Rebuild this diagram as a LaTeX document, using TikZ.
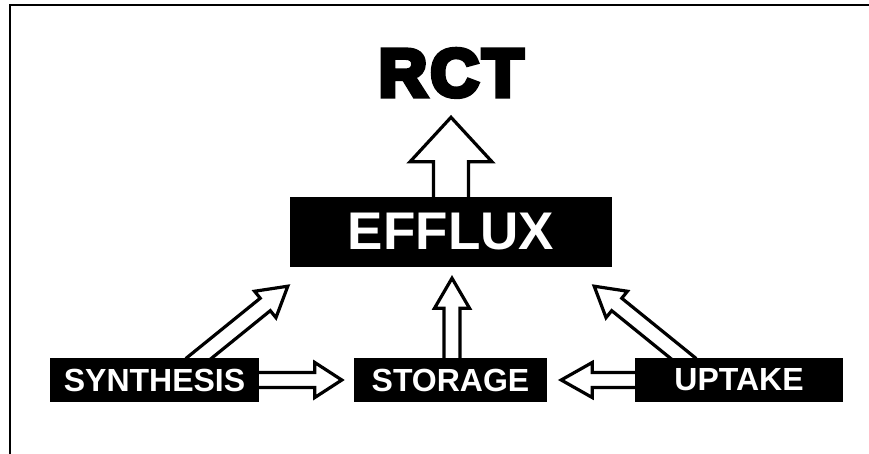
\documentclass[tikz,border=0pt]{standalone}
\usepackage{fontspec}
\setmainfont{Liberation Sans}
\newfontfamily\heavyfont[FakeBold=7.5]{Liberation Sans Bold}
\usetikzlibrary{calc,backgrounds}
\tikzset{
  box/.style={fill=black,text=white,inner sep=0pt,
    font=\bfseries\fontsize{32}{32}\selectfont,minimum height=44pt},
  barrow/.style={draw=black,fill=white,line width=3.2pt,line join=miter},
  framepen/.style={line width=2.2pt,line join=miter}
}
% #1 start, #2 tip, #3 shaft half width, #4 head half width, #5 head length
\newcommand\blockarrow[5]{%
  \coordinate (ba-h) at ($(#2)!#5!(#1)$);
  \draw[barrow] ($(#1)!#3!90:(#2)$) -- ($(ba-h)!#3!90:(#2)$)
    -- ($(ba-h)!#4!90:(#2)$) -- (#2) -- ($(ba-h)!#4!-90:(#2)$)
    -- ($(ba-h)!#3!-90:(#2)$) -- ($(#1)!#3!-90:(#2)$) -- cycle;}
\begin{document}
\begin{tikzpicture}[x=1pt,y=-1pt]
\useasboundingbox (0,0) rectangle (869,453);
\draw[framepen] (10,455) -- (10,5.3) -- (871,5.3);
\node[anchor=base,inner sep=0pt,font=\heavyfont\fontsize{67}{67}\selectfont] (rct) at (451,96) {R\kern3.5pt C\kern3.5pt T};
\node[box,minimum width=322pt,minimum height=70pt,font=\bfseries\fontsize{53}{53}\selectfont] (efflux) at (451,232) {EFFLUX};
\node[box,minimum width=209pt] (synth) at (154.5,380) {SYNTHESIS};
\node[box,minimum width=193pt] (storage) at (450.5,380) {STORAGE};
\node[box,minimum width=208pt] (uptake) at (739,380) {UPTAKE};
\begin{pgfonlayer}{background}
  \coordinate (e2r-s) at ($(efflux.north)+(0,8)$);
  \coordinate (e2r-t) at ($(efflux.north)+(0,-79.5)$);
  \blockarrow{e2r-s}{e2r-t}{17.5pt}{41pt}{44.5pt}
  \coordinate (s2e-s) at ($(storage.north)+(1.5,7)$);
  \coordinate (s2e-t) at ($(efflux.south)+(1,11)$);
  \blockarrow{s2e-s}{s2e-t}{8pt}{17.5pt}{30pt}
  \coordinate (y2s-s) at ($(synth.east)+(-9,0)$);
  \coordinate (y2s-t) at ($(storage.west)+(-12,0)$);
  \blockarrow{y2s-s}{y2s-t}{7.5pt}{17.5pt}{27pt}
  \coordinate (u2s-s) at ($(uptake.west)+(10,0)$);
  \coordinate (u2s-t) at ($(storage.east)+(14,0)$);
  \blockarrow{u2s-s}{u2s-t}{7.5pt}{17.5pt}{31pt}
  \coordinate (y2e-s) at ($(synth.north)+(37.5,6)$);
  \coordinate (y2e-t) at ($(efflux.south west)+(-2,19)$);
  \blockarrow{y2e-s}{y2e-t}{8pt}{17pt}{29pt}
  \coordinate (u2e-s) at ($(uptake.north)+(-49,6)$);
  \coordinate (u2e-t) at ($(efflux.south east)+(-18,19)$);
  \blockarrow{u2e-s}{u2e-t}{8pt}{17pt}{29pt}
\end{pgfonlayer}
\end{tikzpicture}
\end{document}
